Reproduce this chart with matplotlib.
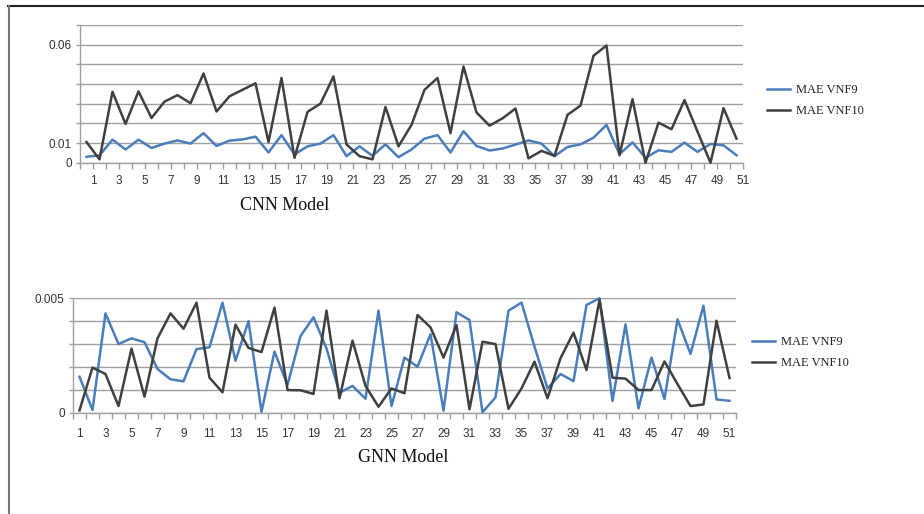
import matplotlib
matplotlib.use('Agg')
import matplotlib.pyplot as plt
from matplotlib.lines import Line2D
import numpy as np

categories = list(range(1, 52))

cnn_vnf9 = [0.003, 0.0037, 0.0117, 0.0067, 0.0117, 0.0075, 0.0097, 0.0113, 0.0097, 0.015,
            0.0085, 0.0112, 0.0118, 0.0132, 0.0052, 0.014, 0.0042, 0.0083, 0.0097, 0.014,
            0.0033, 0.0083, 0.0035, 0.0093, 0.0028, 0.0067, 0.0122, 0.014, 0.0052, 0.016,
            0.0085, 0.0062, 0.0072, 0.0092, 0.0113, 0.0097, 0.0033, 0.008, 0.0093, 0.0127,
            0.0192, 0.0043, 0.0103, 0.0025, 0.0063, 0.0055, 0.0102, 0.0055, 0.0095, 0.0088,
            0.0038]
cnn_vnf10 = [0.0105, 0.0017, 0.036, 0.0197, 0.0362, 0.0227, 0.031, 0.0343, 0.0302, 0.0453,
             0.026, 0.0337, 0.037, 0.0403, 0.0105, 0.043, 0.0025, 0.0258, 0.03, 0.0438,
             0.0093, 0.0033, 0.0017, 0.0283, 0.0083, 0.0192, 0.037, 0.043, 0.015, 0.0488,
             0.0255, 0.0188, 0.0225, 0.0275, 0.0022, 0.006, 0.0035, 0.0243, 0.029, 0.0543,
             0.0595, 0.0038, 0.0322, 0.0, 0.0203, 0.017, 0.0318, 0.0158, 0.0, 0.0277,
             0.0122]
gnn_vnf9 = [0.00157, 0.00012, 0.00434, 0.003, 0.00325, 0.00308, 0.00191, 0.00146, 0.00137, 0.00278,
            0.00286, 0.00481, 0.00227, 0.004, 0.00004, 0.00267, 0.00121, 0.00335, 0.00417, 0.00281,
            0.00087, 0.00117, 0.00061, 0.00446, 0.00029, 0.00241, 0.00201, 0.00343, 0.00009, 0.00439,
            0.00405, 0.00002, 0.00067, 0.00446, 0.00481, 0.00289, 0.00106, 0.00169, 0.00138, 0.00471,
            0.005, 0.00051, 0.00386, 0.00019, 0.00241, 0.0006, 0.00408, 0.00257, 0.00468, 0.00058,
            0.00052]
gnn_vnf10 = [0.0001, 0.00197, 0.00169, 0.00029, 0.0028, 0.0007, 0.00325, 0.00434, 0.00367, 0.00481,
             0.00153, 0.00089, 0.00385, 0.00283, 0.00265, 0.00459, 0.00099, 0.00098, 0.00082, 0.00446,
             0.00063, 0.00315, 0.00117, 0.00026, 0.00106, 0.00085, 0.00427, 0.00373, 0.00241, 0.00383,
             0.00015, 0.0031, 0.003, 0.00017, 0.00106, 0.00223, 0.00063, 0.00238, 0.0035, 0.00187,
             0.00493, 0.00153, 0.00149, 0.00099, 0.00099, 0.00224, 0.00125, 0.00029, 0.00036, 0.00402,
             0.00152]

series_names = ['MAE VNF9', 'MAE VNF10']
cnn_yticks = [0, 0.01, 0.02, 0.03, 0.04, 0.05, 0.06, 0.07]
cnn_ylabels = ['0', '0.01', '', '', '', '', '0.06', '']
gnn_yticks = [0, 0.001, 0.002, 0.003, 0.004, 0.005]
gnn_ylabels = ['0', '', '', '', '', '0.005']

W, H = 924, 514
fig = plt.figure(figsize=(W / 100, H / 100), dpi=100)
fig.patch.set_facecolor('white')

BLUE = '#4a7ebb'
DARK = '#404040'
GRID = '#a0a0a0'
TICKFONT = ['Liberation Sans', 'DejaVu Sans']
SERIF = ['Liberation Serif', 'DejaVu Serif']

def fx(px):
    return px / W

def fy(py):
    return 1 - py / H

def style_axes(ax, yticks, ylabels):
    ax.set_axisbelow(True)
    for s in ['top', 'right']:
        ax.spines[s].set_visible(False)
    for s in ['left', 'bottom']:
        ax.spines[s].set_color(GRID)
        ax.spines[s].set_linewidth(1.0)
    ax.set_yticks(yticks)
    ax.set_yticklabels(ylabels)
    ax.yaxis.grid(True, color=GRID, linewidth=1.0)
    ax.tick_params(axis='y', length=3, width=1.0, color=GRID, pad=3,
                   labelsize=8.5, labelcolor='#333333')
    for t in ax.get_yticklabels():
        t.set_family(TICKFONT)

# ---------------- CNN chart ----------------
ax1 = fig.add_axes([fx(80), fy(162.7), fx(663), (162.7 - 24.8) / H])
x = np.arange(len(categories))
ax1.plot(x, cnn_vnf9, color=BLUE, lw=1.8, label=series_names[0], clip_on=False, zorder=3)
ax1.plot(x, cnn_vnf10, color=DARK, lw=1.8, label=series_names[1], clip_on=False, zorder=4)
ax1.set_xlim(-0.5, len(categories) - 0.5)
ax1.set_ylim(0, 0.07)
style_axes(ax1, cnn_yticks, cnn_ylabels)
# labels sit on the category boundaries (as in the reference)
lab_pos = [c - 0.5 for c in categories if c % 2 == 1]
lab_txt = [str(c) for c in categories if c % 2 == 1]
ax1.set_xticks(lab_pos)
ax1.set_xticklabels(lab_txt)
ax1.set_xticks(np.arange(-0.5, len(categories), 1.0), minor=True)
ax1.tick_params(axis='x', which='both', length=4, width=1.0, color=GRID, pad=5,
                labelsize=8.5, labelcolor='#333333')
for t in ax1.get_xticklabels():
    t.set_family(TICKFONT)

# ---------------- GNN chart ----------------
ax2 = fig.add_axes([fx(73), fy(412.7), fx(663), (412.7 - 298.3) / H])
ax2.plot(x, gnn_vnf9, color=BLUE, lw=1.8, label=series_names[0], clip_on=False, zorder=3)
ax2.plot(x, gnn_vnf10, color=DARK, lw=1.8, label=series_names[1], clip_on=False, zorder=4)
ax2.set_xlim(-0.5, len(categories) - 0.5)
ax2.set_ylim(0, 0.005)
style_axes(ax2, gnn_yticks, gnn_ylabels)
ax2.set_xticks([c - 1 for c in categories if c % 2 == 1])
ax2.set_xticklabels(lab_txt)
ax2.set_xticks(np.arange(-0.5, len(categories), 1.0), minor=True)
ax2.tick_params(axis='x', which='major', length=0, pad=11,
                labelsize=8.5, labelcolor='#333333')
ax2.tick_params(axis='x', which='minor', length=4, width=1.0, color=GRID)
for t in ax2.get_xticklabels():
    t.set_family(TICKFONT)

# ---------------- legends ----------------
for ax, (lx, ly) in [(ax1, (767, 84)), (ax2, (752, 336))]:
    leg = ax.legend(loc='upper left', bbox_to_anchor=(fx(lx), fy(ly)),
                    bbox_transform=fig.transFigure, frameon=False,
                    borderpad=0, borderaxespad=0, handlelength=1.8,
                    handletextpad=0.5, labelspacing=0.75,
                    prop={'family': SERIF, 'size': 9})
    for t in leg.get_texts():
        t.set_color('#222222')

# ---------------- titles ----------------
fig.text(fx(285), fy(205), 'CNN Model', ha='center', va='center',
         family=SERIF, fontsize=13, color='#111111')
fig.text(fx(403), fy(458), 'GNN Model', ha='center', va='center',
         family=SERIF, fontsize=13, color='#111111')

# ---------------- outer frame ----------------
fig.add_artist(Line2D([fx(8), 1.0], [fy(6), fy(6)], transform=fig.transFigure,
                      color='#222222', lw=1.5))
fig.add_artist(Line2D([fx(9), fx(9)], [fy(6), 0.0], transform=fig.transFigure,
                      color='#777777', lw=1.5))

fig.savefig('out.png', dpi=100, facecolor='white')
